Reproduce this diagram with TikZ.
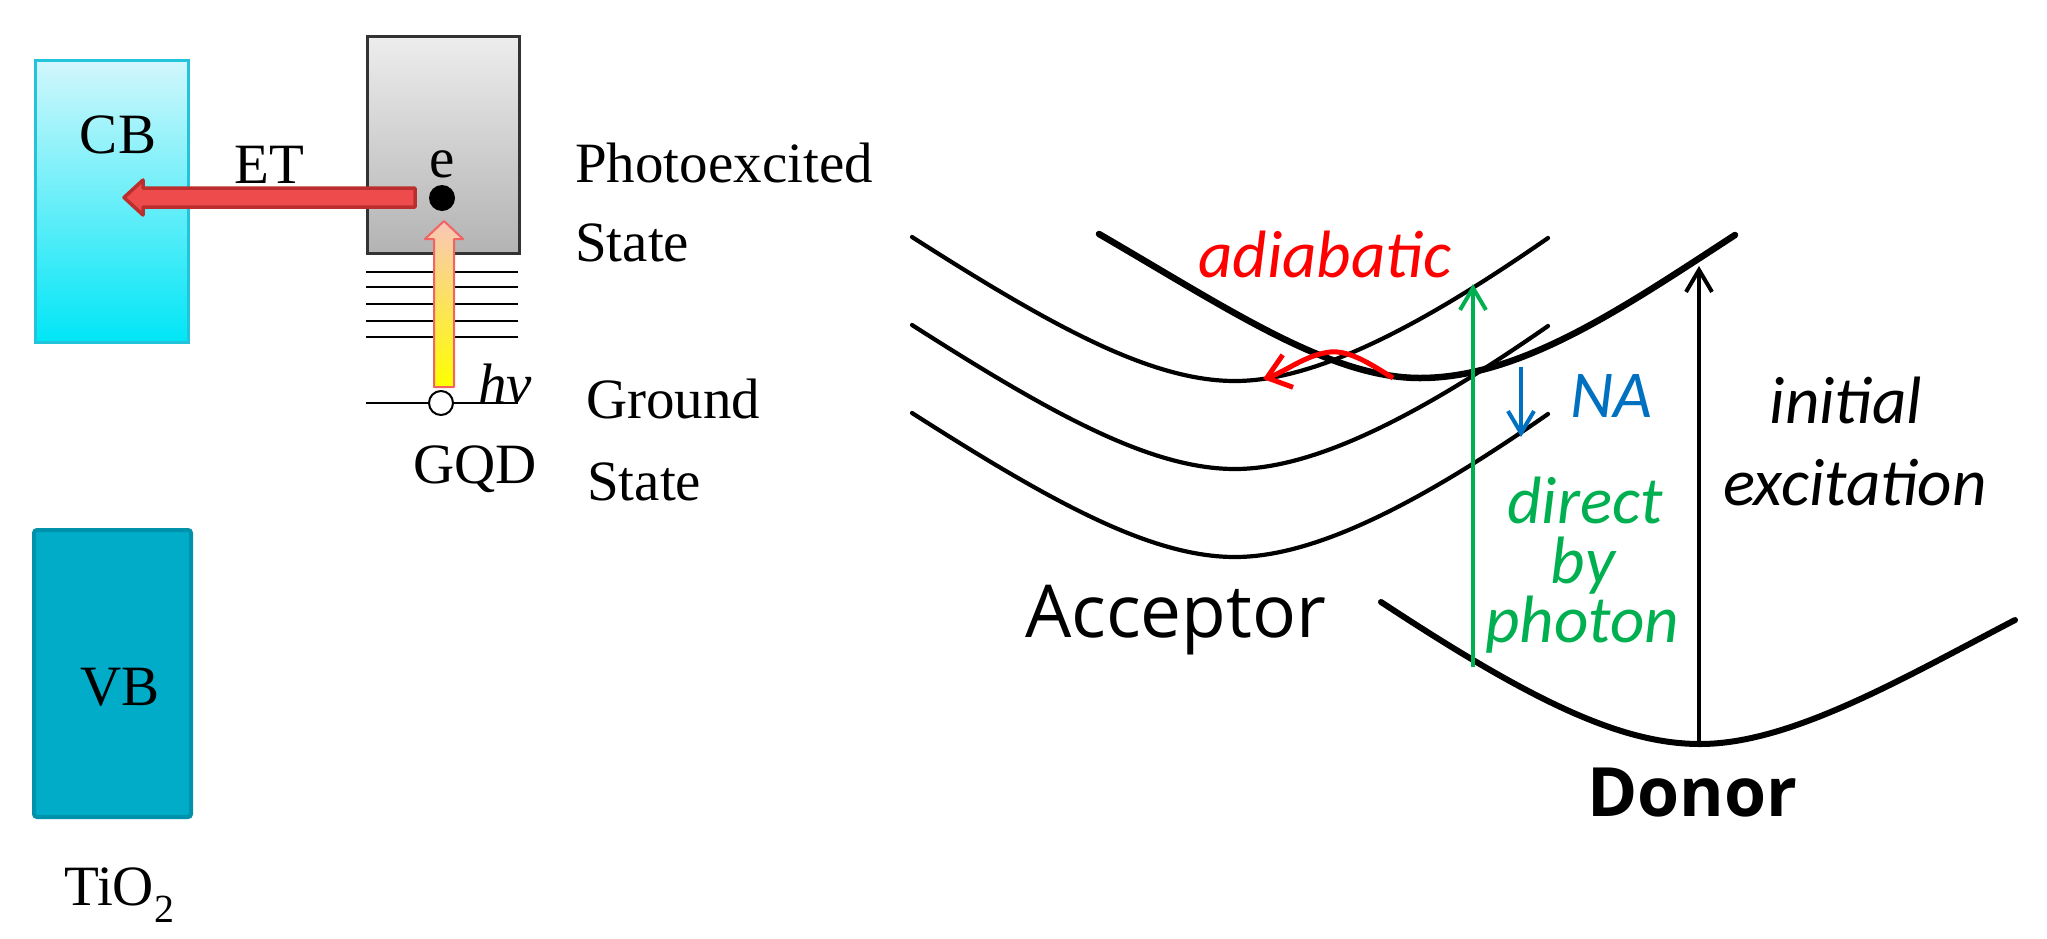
\documentclass[tikz,border=0pt]{standalone}
\usepackage{fontspec}
\setmainfont{Liberation Serif}
\newfontfamily\calfont{Carlito}
\newfontfamily\osfont{Open Sans}
\usetikzlibrary{arrows.meta}
\definecolor{cbtop}{HTML}{D2F7FC}
\definecolor{cbbot}{HTML}{00E6F6}
\definecolor{cbborder}{HTML}{22C4DA}
\definecolor{vbfill}{HTML}{00ACC8}
\definecolor{vbborder}{HTML}{0092AB}
\definecolor{gqdtop}{HTML}{EDEDED}
\definecolor{gqdbot}{HTML}{B3B3B3}
\definecolor{etfill}{HTML}{EE4C4C}
\definecolor{etdark}{HTML}{BC2E2E}
\definecolor{peach}{HTML}{F9C6B8}
\definecolor{uparrow}{HTML}{F26363}
\definecolor{dgreen}{HTML}{00B050}
\definecolor{nablue}{HTML}{0070C0}
\begin{document}
\begin{tikzpicture}[x=1pt,y=-1pt,
  serif/.style={font=\fontsize{57}{68}\selectfont, inner sep=0pt, text=black},
  lab/.style={font=\calfont\itshape\fontsize{67}{80}\selectfont, inner sep=0pt},
  thincurve/.style={line width=4.2pt, line cap=round},
  thickcurve/.style={line width=6.5pt, line cap=round},
  level/.style={line width=2pt},
  vert/.style={line width=4pt, -{Straight Barb[length=22pt,width=26pt]}}
]
\useasboundingbox (0,0) rectangle (2047,938);

% ---------- TiO2 bands ----------
\node[draw=cbborder, line width=2.5pt, top color=cbtop, bottom color=cbbot,
      minimum width=153pt, minimum height=282pt, inner sep=0pt, anchor=north west] (cbbox) at (34,59) {};
\node[draw=vbborder, fill=vbfill, line width=4pt, rounded corners=3pt,
      minimum width=157pt, minimum height=287pt, inner sep=0pt, anchor=north west] (vbbox) at (32,528) {};
\node[serif, anchor=base] (cbl) at (118,153) {CB};
\node[serif, anchor=base] (vbl) at (120,705) {VB};
\node[serif, anchor=base west] (tio) at (64,905) {TiO\textsubscript{2}};

% ---------- GQD ----------
\node[draw=black!80, line width=2.5pt, top color=gqdtop, bottom color=gqdbot,
      minimum width=152pt, minimum height=217pt, inner sep=0pt, anchor=north west] (gqdbox) at (366,35) {};
\foreach \yy in {272,287,304,321,337} \draw[level] (366,\yy) -- (518,\yy);
\draw[level] (366,403) -- (518,403);

% ET arrow
\path[fill=etfill, draw=etdark, line width=3.5pt, line join=round]
  (415,188) -- (143,188) -- (143,180) -- (124,197.5) -- (143,215) -- (143,207) -- (415,207) -- cycle;
% photon arrow
\path[top color=peach, bottom color=yellow, draw=uparrow, line width=2pt, line join=round]
  (434,387) -- (434,239) -- (425,239) -- (444,221) -- (463,239) -- (454,239) -- (454,387) -- cycle;

\node[circle, fill=black, minimum size=26pt, inner sep=0pt] (elec) at (442,198) {};
\node[circle, draw=black, fill=white, line width=2pt, minimum size=24pt, inner sep=0pt] (hole) at (441,403) {};

\node[serif, anchor=base] (etl) at (269,183) {ET};
\node[serif, anchor=base] (el) at (442,177) {e};
\node[serif, anchor=base west] (hv) at (478,403) {\itshape hν};
\node[serif, anchor=base] (gqd) at (475,483) {GQD};
\node[serif, anchor=base west] (pe) at (575,182) {Photoexcited};
\node[serif, anchor=base west] (pes) at (575,261) {State};
\node[serif, anchor=base west] (gr) at (586,418) {Ground};
\node[serif, anchor=base west] (grs) at (587,500) {State};

% ---------- potential curves ----------
\foreach \sh in {0,88,176}{
  \begin{scope}[yshift=-\sh pt]
  \draw[thincurve] (912,237) .. controls (1050,325) and (1150,381) .. (1235,381)
                   .. controls (1320,381) and (1430,320) .. (1548,238);
  \end{scope}
}
\draw[thickcurve] (1099,234) .. controls (1230,310) and (1330,378) .. (1420,378)
                  .. controls (1520,378) and (1620,310) .. (1735,235);
\draw[line width=6pt, line cap=round] (1381,602) .. controls (1530,700) and (1620,744) .. (1700,744)
                  .. controls (1790,744) and (1900,680) .. (2015,620);

% arrows
\coordinate (gbot) at (1473,667);
\coordinate (gtop) at (1473,284);
\draw[vert, draw=dgreen] (gbot) -- (gtop);
\coordinate (kbot) at (1699,744);
\coordinate (ktop) at (1699,266);
\draw[vert, draw=black] (kbot) -- (ktop);
\coordinate (nat) at (1521,367);
\coordinate (nab) at (1521,437);
\draw[vert, draw=nablue] (nat) -- (nab);
\coordinate (ras) at (1393,378);
\coordinate (rae) at (1263,379);
\draw[line width=5pt, red, -{Straight Barb[length=22pt,width=34pt]}]
  (ras) .. controls (1372,365) and (1350,350) .. (1330,352) .. controls (1305,355) and (1285,372) .. (rae);

% labels
\node[lab, text=red, anchor=base west] (adia) at (1198,277) {adiabatic};
\node[lab, text=nablue, anchor=base west] (na) at (1570,417) {NA};
\node[lab, text=dgreen, anchor=base] (d1) at (1585,523) {direct};
\node[lab, text=dgreen, anchor=base] (d2) at (1583,583) {by};
\node[lab, text=dgreen, anchor=base] (d3) at (1582,642) {photon};
\node[lab, text=black, anchor=base] (ie1) at (1846,423) {initial};
\node[lab, text=black, anchor=base] (ie2) at (1855,505) {excitation};
\node[font=\osfont\fontsize{73}{80}\selectfont, inner sep=0pt, anchor=base west] (acc) at (1025,637) {Acceptor};
\node[font=\osfont\bfseries\fontsize{68}{80}\selectfont, inner sep=0pt, anchor=base west] (don) at (1587,816) {Donor};
\end{tikzpicture}
\end{document}
